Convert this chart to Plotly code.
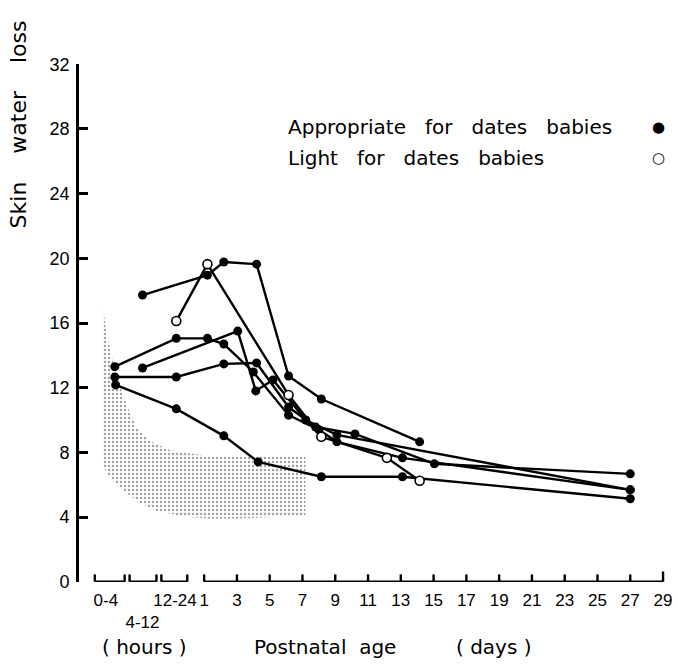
import plotly.graph_objects as go

# ---------------- data ----------------
# x scale: days are at their day number; the three hour groups sit left of day 1
hour_labels = ["0-4", "<br>4-12", "12-24"]
hour_label_pos = [-5.0, -2.76, -0.78]
day_ticks = list(range(1, 30, 2))
y_ticks = list(range(0, 33, 4))

# appropriate-for-dates babies (filled)
a_x = [-4.45, -0.70, 1.2, 2.2, 4.0, 6.15, 8.0, 9.1, 13.1, 27.0]
a_y = [13.3, 15.05, 15.05, 14.7, 12.97, 10.3, 9.4, 8.65, 7.66, 5.68]

b_x = [-4.45, -0.70, 2.2, 4.2, 6.15, 7.8, 10.2, 15.05, 27.0]
b_y = [12.66, 12.66, 13.47, 13.53, 10.8, 9.57, 9.14, 7.29, 6.67]

c_x = [-4.4, -0.70, 2.2, 4.3, 8.15, 13.1, 27.0]
c_y = [12.17, 10.69, 9.02, 7.41, 6.49, 6.49, 5.13]

d_x = [-2.76, 1.2, 2.2, 4.2, 6.15, 8.15, 14.15]
d_y = [17.73, 18.96, 19.77, 19.64, 12.72, 11.30, 8.65]

e_x = [-2.76, 3.05, 4.15, 5.2, 7.2, 9.1, 27.0]
e_y = [13.22, 15.5, 11.8, 12.48, 10.0, 9.08, 5.68]

# light-for-dates baby (open)
f_x = [-0.70, 1.2, 6.15, 8.15, 12.15, 14.15]
f_y = [16.12, 19.64, 11.55, 8.96, 7.66, 6.24]

# stippled normal range band (outline)
band_x = [-5.18, -5.18, -5.06, -4.64, -3.97, -2.94, -1.91, -0.21, 1.48, 4.33, 7.18,
          7.18, 4.15, 1.48, -0.21, -1.12, -2.33, -3.12, -3.73, -4.15, -4.58, -4.94, -5.12]
band_y = [17.1, 7.54, 6.92, 6.3, 5.68, 4.88, 4.39, 4.01, 3.89, 3.95, 4.08,
          7.72, 7.78, 7.78, 7.97, 8.15, 8.71, 9.51, 10.93, 12.17, 13.71, 15.26, 16.62]

# ---------------- layout constants ----------------
hour_brackets = [(-5.67, -3.85), (-3.55, -1.91), (-1.61, -0.03)]
day_axis = (1, 29)
FONT = "DejaVu Sans"
TICKFONT = "Liberation Sans"
W, H = 678, 664
ML, MR, MT, MB = 79, 6, 64, 82
X_RANGE = [-6.636, 29.303]
Y_RANGE = [-0.02, 32.02]
PW = W - ML - MR
PH = H - MT - MB

fig = go.Figure()

fig.add_trace(go.Scatter(
    x=band_x, y=band_y, mode="lines", fill="toself",
    line=dict(width=0, color="rgba(0,0,0,0)"),
    fillcolor="rgba(0,0,0,0)",
    fillpattern=dict(shape=".", fgcolor="#444444", bgcolor="white", size=4, solidity=0.3),
    hoverinfo="skip", showlegend=False))

filled_marker = dict(size=9, color="black", line=dict(width=0))
for xs, ys in [(c_x, c_y), (b_x, b_y), (a_x, a_y), (e_x, e_y), (d_x, d_y)]:
    fig.add_trace(go.Scatter(x=xs, y=ys, mode="lines+markers",
                             line=dict(color="black", width=2.4),
                             marker=filled_marker, showlegend=False))

fig.add_trace(go.Scatter(x=f_x, y=f_y, mode="lines+markers",
                         line=dict(color="black", width=2.4),
                         marker=dict(size=9, color="white", line=dict(width=1.6, color="black")),
                         showlegend=False))

# broken x axis drawn on the data scale
shapes = []
tick_h = 0.45
for x0, x1 in hour_brackets:
    shapes.append(dict(type="line", xref="x", yref="y", x0=x0, x1=x1, y0=0, y1=0,
                       line=dict(color="black", width=2.4)))
    for xx in (x0, x1):
        shapes.append(dict(type="line", xref="x", yref="y", x0=xx, x1=xx, y0=0, y1=tick_h,
                           line=dict(color="black", width=2.4)))
shapes.append(dict(type="line", xref="x", yref="y", x0=day_axis[0], x1=day_axis[1], y0=0, y1=0,
                   line=dict(color="black", width=2.4)))
for d in day_ticks:
    shapes.append(dict(type="line", xref="x", yref="y", x0=d, x1=d, y0=0,
                       y1=tick_h * (1.4 if d == day_axis[1] else 1.0),
                       line=dict(color="black", width=2.4)))

NB = "\u00a0"


def ann(text, px, py, size=20, anchor="center", angle=0):
    return dict(text=text, textangle=angle, xref="paper", yref="paper",
                x=(px - ML) / PW, y=(582 - py) / PH,
                xanchor=anchor, yanchor="middle", showarrow=False,
                font=dict(family=FONT, size=size, color="black"))


annotations = [
    ann("Skin" + NB * 3 + " water" + NB * 3 + " loss", 18, 124, size=22, angle=-90),
    ann("Appropriate" + NB * 2 + " for" + NB * 2 + " dates" + NB * 2 + " babies", 287, 127, anchor="left"),
    ann("Light" + NB * 2 + " for" + NB * 2 + " dates" + NB * 2 + " babies", 287, 158, anchor="left"),
    ann("\u25cf", 662, 127, size=15),
    ann("\u25cb", 662, 158, size=15),
    ann("(" + NB + "hours" + NB + ")", 145, 647),
    ann("Postnatal" + NB + " age", 327, 647),
    ann("(" + NB + "days" + NB + ")", 497, 647),
]

fig.update_layout(
    width=W, height=H, margin=dict(l=ML, r=MR, t=MT, b=MB, pad=0),
    paper_bgcolor="white", plot_bgcolor="white",
    shapes=shapes, annotations=annotations, showlegend=False,
    xaxis=dict(range=X_RANGE, showgrid=False, zeroline=False, showline=False,
               ticks="", tickmode="array", tickangle=0,
               tickvals=hour_label_pos + day_ticks,
               ticktext=hour_labels + [str(d) for d in day_ticks],
               tickfont=dict(family=TICKFONT, size=17, color="black"),
               ticklabelstandoff=6, fixedrange=True),
    yaxis=dict(range=Y_RANGE, showgrid=False, zeroline=False, showline=True,
               linecolor="black", linewidth=2.6,
               ticks="inside", ticklen=9, tickwidth=2.6, tickcolor="black",
               tickmode="array", tickvals=y_ticks,
               tickfont=dict(family=TICKFONT, size=18, color="black"),
               ticklabelstandoff=3, fixedrange=True),
)

fig.write_html("out.html")
